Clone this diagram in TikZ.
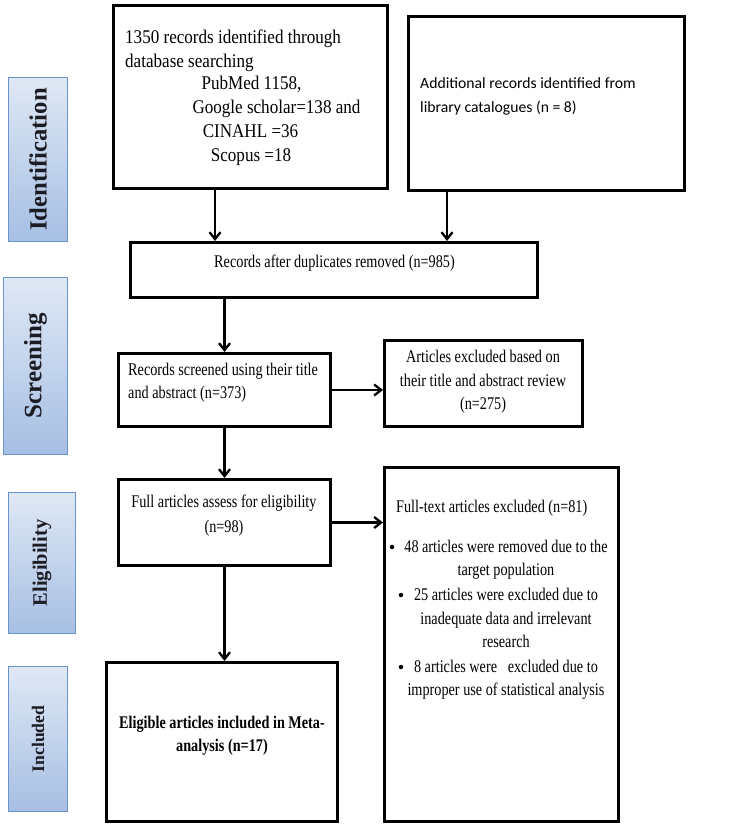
\documentclass[tikz,border=0pt]{standalone}
\usepackage{fontspec}
\setmainfont{Liberation Serif}
\newfontfamily\nserif[FakeStretch=0.88]{Liberation Serif}
\newfontfamily\mserif[FakeStretch=0.80]{Liberation Serif}
\newfontfamily\calib{Carlito}
\usetikzlibrary{arrows.meta}
\newcommand\tsf{\mserif\fontsize{17.8}{20}\selectfont}
\newcommand\tsfA{\nserif\fontsize{19.4}{22}\selectfont}
\definecolor{lblborder}{HTML}{6A93CF}
\definecolor{lbltop}{HTML}{DFE8F5}
\definecolor{lblbot}{HTML}{A6BFE3}
\definecolor{lbltext}{HTML}{1C1C24}
\tikzset{
  box/.style={draw, line width=3pt, inner sep=0pt, fill=white},
  lbl/.style={draw=lblborder, line width=1pt, top color=lbltop, bottom color=lblbot, inner sep=0pt},
  lbltxt/.style={rotate=90, text=lbltext, inner sep=0pt, font=\bfseries},
  txt/.style={inner sep=0pt, anchor=base, font=\tsf},
  txtw/.style={inner sep=0pt, anchor=base west, font=\tsf},
  ctxt/.style={inner sep=0pt, anchor=base west, font=\calib\fontsize{15.7}{19}\selectfont},
  arr/.style={line width=2.5pt, -{Straight Barb[length=7pt,width=11pt,line width=2.3pt]}},
  bul/.style={circle, fill=black, inner sep=0pt, minimum size=4.5pt}
}
\begin{document}
\begin{tikzpicture}[x=1pt,y=-1pt]
\useasboundingbox (0,0) rectangle (728,827);
% side labels
\node[lbl, minimum width=59pt, minimum height=164pt] (L1) at (38,159.5) {};
\node[lbltxt, font=\bfseries\fontsize{24.7}{25}\selectfont] (L1t) at (L1.center) {Identification};
\node[lbl, minimum width=64pt, minimum height=177pt] (L2) at (35.5,366) {};
\node[lbltxt, font=\bfseries\fontsize{25}{25}\selectfont] (L2t) at (L2.center) {Screening};
\node[lbl, minimum width=67pt, minimum height=141pt] (L3) at (42,563) {};
\node[lbltxt, font=\bfseries\fontsize{20.5}{21}\selectfont] (L3t) at (L3.center) {Eligibility};
\node[lbl, minimum width=59pt, minimum height=145pt] (L4) at (38,739) {};
\node[lbltxt, font=\bfseries\fontsize{17.7}{18}\selectfont] (L4t) at (L4.center) {Included};
% boxes
\node[box, minimum width=274pt, minimum height=183pt] (A) at (250.5,97) {};
\node[box, line width=2.6pt, minimum width=276pt, minimum height=174pt] (B) at (546.5,103.5) {};
\node[box, minimum width=407pt, minimum height=55pt] (C) at (334,270) {};
\node[box, minimum width=212pt, minimum height=73pt] (D) at (224.5,390) {};
\node[box, minimum width=198pt, minimum height=86pt] (E) at (483.5,383.5) {};
\node[box, minimum width=212pt, minimum height=86pt] (F) at (224.5,522.5) {};
\node[box, minimum width=234pt, minimum height=354pt] (G) at (501.5,644.5) {};
\node[box, minimum width=231pt, minimum height=159pt] (H) at (222,742) {};
% texts A
\node[txtw, font=\tsfA] (a1) at (125,43) {1350 records identified through};
\node[txtw, font=\tsfA] (a2) at (125,67) {database searching};
\node[txt, font=\tsfA] (a3) at (251.5,89) {PubMed 1158,};
\node[txt, font=\tsfA] (a4) at (276.5,113) {Google scholar=138 and};
\node[txt, font=\tsfA] (a5) at (250.5,137) {CINAHL =36};
\node[txt, font=\tsfA] (a6) at (251,161) {Scopus =18};
% text B
\node[ctxt] (b1) at (420,88) {Additional records identified from};
\node[ctxt] (b2) at (420,112) {library catalogues (n = 8)};
% text C
\node[txt] (c1) at (334.5,267) {Records after duplicates removed (n=985)};
% text D
\node[txtw] (d1) at (128,375) {Records screened using their title};
\node[txtw] (d2) at (128,398) {and abstract (n=373)};
% text E
\node[txt] (e1) at (483,362) {Articles excluded based on};
\node[txt] (e2) at (483,386) {their title and abstract review};
\node[txt] (e3) at (483,409) {(n=275)};
% text F
\node[txt] (f1) at (224,507) {Full articles assess for eligibility};
\node[txt] (f2) at (224,532) {(n=98)};
% text G
\node[txtw] (g0) at (396,512) {Full-text articles excluded (n=81)};
\node[bul] (gb1) at (392,547) {};
\node[txt] (g1) at (506,552) {48 articles were removed due to the};
\node[txt] (g2) at (506,575) {target population};
\node[bul] (gb2) at (401,595) {};
\node[txt] (g3) at (506,600) {25 articles were excluded due to};
\node[txt] (g4) at (506,624) {inadequate data and irrelevant};
\node[txt] (g5) at (506,647) {research};
\node[bul] (gb3) at (401,667) {};
\node[txt] (g6) at (506,672) {8 articles were~~~excluded due to};
\node[txt] (g7) at (506,695) {improper use of statistical analysis};
% text H
\node[txt, font=\tsf\bfseries] (h1) at (222,728) {Eligible articles included in Meta-};
\node[txt, font=\tsf\bfseries] (h2) at (222,751) {analysis (n=17)};
% arrows
\draw[arr] ([xshift=-35.5pt]A.south) -- ([xshift=-35.5pt]A.south |- C.north);
\draw[arr] ([xshift=-99.5pt]B.south) -- ([xshift=-99.5pt]B.south |- C.north);
\draw[arr] (C.south -| D.north) -- (D.north);
\draw[arr] (D.east) -- (D.east -| E.west);
\draw[arr] (D.south) -- (F.north);
\draw[arr] (F.east) -- (F.east -| G.west);
\draw[arr] (F.south) -- (F.south |- H.north);
\end{tikzpicture}
\end{document}
